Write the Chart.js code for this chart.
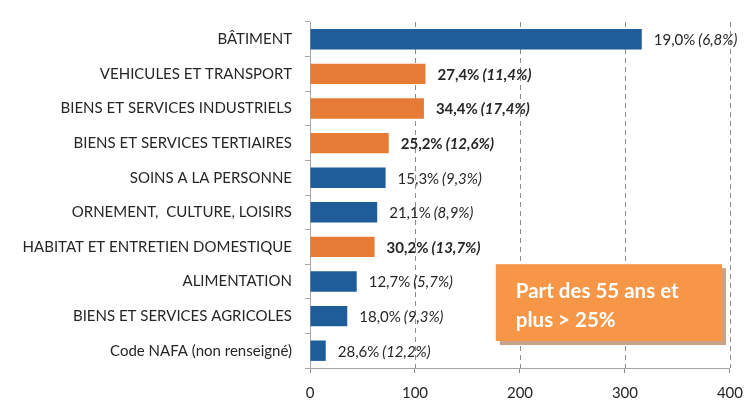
<!DOCTYPE html>
<html>
<head>
<meta charset="utf-8">
<script src="https://cdn.jsdelivr.net/npm/chart.js@4.4.0/dist/chart.umd.min.js"></script>
<style>
html,body{margin:0;padding:0;background:#fff;}
#wrap{width:754px;height:401px;position:relative;}
</style>
</head>
<body>
<div id="wrap"><canvas id="c" width="754" height="401"></canvas></div>
<script>
const categories = ['BÂTIMENT','VEHICULES ET TRANSPORT','BIENS ET SERVICES INDUSTRIELS','BIENS ET SERVICES TERTIAIRES','SOINS A LA PERSONNE','ORNEMENT,  CULTURE, LOISIRS','HABITAT ET ENTRETIEN DOMESTIQUE','ALIMENTATION','BIENS ET SERVICES AGRICOLES','Code NAFA (non renseigné)'];
const effectifs = [316, 110, 108.5, 75, 72, 64, 61.5, 44.5, 35.5, 15];
const part55 = ['19,0%','27,4%','34,4%','25,2%','15,3%','21,1%','30,2%','12,7%','18,0%','28,6%'];
const partSecond = ['(6,8%)','(11,4%)','(17,4%)','(12,6%)','(9,3%)','(8,9%)','(13,7%)','(5,7%)','(9,3%)','(12,2%)'];
const highlight = [false,true,true,true,false,false,true,false,false,false];
const xTicks = [0,100,200,300,400];
const noteLines = ['Part des 55 ans et','plus > 25%'];

const BLUE = '#1F5C9A';
const ORANGE = '#E67B36';
const FONT = 'Lato, "Noto Sans", sans-serif';

const labelPlugin = {
  id: 'valueLabels',
  afterDatasetsDraw(chart) {
    const ctx = chart.ctx;
    const meta = chart.getDatasetMeta(0);
    ctx.save();
    ctx.textBaseline = 'middle';
    ctx.fillStyle = '#262626';
    meta.data.forEach((bar, i) => {
      const w = highlight[i] ? 'bold ' : '';
      let x = bar.x + 12;
      const y = bar.y + 1;
      ctx.font = w + '15px ' + FONT;
      ctx.fillText(part55[i], x, y);
      x += ctx.measureText(part55[i]).width + 3;
      ctx.font = 'italic ' + w + '15px ' + FONT;
      ctx.fillText(partSecond[i], x, y);
    });
    ctx.restore();
  }
};

const gridPlugin = {
  id: 'dashGrid',
  beforeDatasetsDraw(chart) {
    const ctx = chart.ctx;
    const xs = chart.scales.x;
    const a = chart.chartArea;
    ctx.save();
    ctx.strokeStyle = '#8C8C8C';
    ctx.lineWidth = 1;
    ctx.setLineDash([5, 4]);
    xTicks.forEach(v => {
      if (v === 0) return;
      const px = Math.round(xs.getPixelForValue(v)) + 0.5;
      ctx.beginPath();
      ctx.moveTo(px, a.top);
      ctx.lineTo(px, a.bottom);
      ctx.stroke();
    });
    ctx.restore();
  }
};

const notePlugin = {
  id: 'note',
  afterDraw(chart) {
    const ctx = chart.ctx;
    const xs = chart.scales.x, ys = chart.scales.y;
    const left = xs.getPixelForValue(177);
    const right = xs.getPixelForValue(392.5);
    const top = ys.getPixelForValue(6.5);
    const bottom = ys.getPixelForValue(8.72);
    ctx.save();
    ctx.fillStyle = '#C8A489';
    ctx.fillRect(left + 4, top + 4, right - left, bottom - top);
    ctx.fillStyle = '#F79646';
    ctx.fillRect(left, top, right - left, bottom - top);
    ctx.fillStyle = '#FFFFFF';
    ctx.font = 'bold 20.5px ' + FONT;
    ctx.textBaseline = 'alphabetic';
    ctx.fillText(noteLines[0], left + 20, top + 34);
    ctx.fillText(noteLines[1], left + 20, top + 63);
    ctx.restore();
  }
};

new Chart(document.getElementById('c'), {
  type: 'bar',
  data: {
    labels: categories,
    datasets: [{
      data: effectifs,
      backgroundColor: highlight.map(h => h ? ORANGE : BLUE),
      categoryPercentage: 1,
      barPercentage: 0.59
    }]
  },
  options: {
    indexAxis: 'y',
    responsive: false,
    animation: false,
    events: [],
    layout: { padding: { top: 19, right: 18, left: 0, bottom: 0 } },
    plugins: { legend: { display: false }, tooltip: { enabled: false } },
    scales: {
      x: {
        min: 0, max: 400,
        afterBuildTicks(s) { s.ticks = xTicks.map(v => ({ value: v })); },
        afterFit(s) { s.height = 33; },
        border: { display: true, color: '#A6A6A6', width: 1 },
        grid: {
          drawOnChartArea: false,
          tickColor: '#8C8C8C',
          tickLength: 5,
          lineWidth: 1
        },
        ticks: { color: '#262626', font: { family: FONT, size: 15 }, padding: 11 }
      },
      y: {
        afterFit(s) { s.width = 310; },
        border: { display: true, color: '#A6A6A6', width: 1 },
        grid: { drawOnChartArea: false, tickLength: 5, tickColor: '#A6A6A6', offset: true },
        ticks: { color: '#262626', font: { family: FONT, size: 15 }, padding: 13, autoSkip: false }
      }
    }
  },
  plugins: [gridPlugin, labelPlugin, notePlugin]
});
</script>
</body>
</html>
